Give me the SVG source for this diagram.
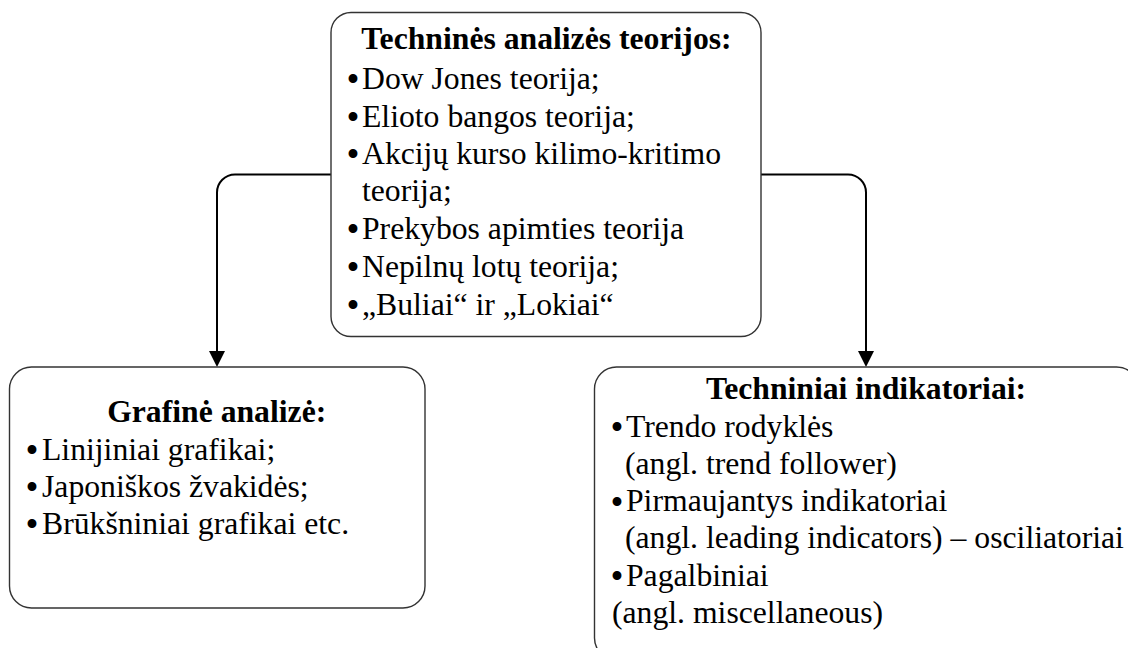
<svg xmlns="http://www.w3.org/2000/svg" width="1128" height="648" viewBox="0 0 1128 648">
  <style>
    .box { fill: #ffffff; stroke: #333333; stroke-width: 1.4; }
    .t { font-family: "Liberation Serif", "Times New Roman", serif; font-size: 31.7px; fill: #000000; }
    .b { font-size: 37px; }
    .title { font-weight: bold; text-anchor: middle; }
    .conn { fill: none; stroke: #000000; stroke-width: 2; }
  </style>
  <defs>
    <marker id="arrow" markerUnits="userSpaceOnUse" markerWidth="16" markerHeight="16" viewBox="0 0 16 16" refX="0" refY="8" orient="auto">
      <path d="M0,0 L16,8 L0,16 z" fill="#000000"/>
    </marker>
  </defs>
  <rect width="1128" height="648" fill="#ffffff"/>

  <g id="connectors">
    <path class="conn" d="M331,174.5 H235 A18,18 0 0 0 217,192.5 V351" marker-end="url(#arrow)"/>
    <path class="conn" d="M761,174.5 H848 A18,18 0 0 1 866,192.5 V351" marker-end="url(#arrow)"/>
  </g>

  <g id="node-teorijos">
    <rect class="box" x="331" y="12.5" width="430" height="324" rx="20" ry="20"/>
    <text class="t title" x="546.5" y="49">Techninės analizės teorijos:</text>
    <text class="t"><tspan class="b" x="346.5" y="92">•</tspan><tspan x="362" y="88.5">Dow Jones teorija;</tspan></text>
    <text class="t"><tspan class="b" x="346.5" y="130">•</tspan><tspan x="362" y="126.5">Elioto bangos teorija;</tspan></text>
    <text class="t"><tspan class="b" x="346.5" y="167">•</tspan><tspan x="362" y="163.5">Akcijų kurso kilimo-kritimo</tspan></text>
    <text class="t" x="362" y="200.5">teorija;</text>
    <text class="t"><tspan class="b" x="346.5" y="242">•</tspan><tspan x="362" y="238.5">Prekybos apimties teorija</tspan></text>
    <text class="t"><tspan class="b" x="346.5" y="280">•</tspan><tspan x="362" y="276.5">Nepilnų lotų teorija;</tspan></text>
    <text class="t"><tspan class="b" x="346.5" y="318">•</tspan><tspan x="362" y="314.5">„Buliai“ ir „Lokiai“</tspan></text>
  </g>

  <g id="node-grafine">
    <rect class="box" x="9.5" y="367" width="415.5" height="241" rx="22" ry="22"/>
    <text class="t title" x="216.7" y="421.5">Grafinė analizė:</text>
    <text class="t"><tspan class="b" x="25.5" y="463">•</tspan><tspan x="42" y="459.5">Linijiniai grafikai;</tspan></text>
    <text class="t"><tspan class="b" x="25.5" y="500">•</tspan><tspan x="42" y="496.5">Japoniškos žvakidės;</tspan></text>
    <text class="t"><tspan class="b" x="25.5" y="537">•</tspan><tspan x="42" y="533.5">Brūkšniniai grafikai etc.</tspan></text>
  </g>

  <g id="node-indikatoriai">
    <rect class="box" x="594.5" y="367" width="544" height="293" rx="22" ry="22"/>
    <text class="t title" x="866" y="399">Techniniai indikatoriai:</text>
    <text class="t"><tspan class="b" x="610.5" y="440">•</tspan><tspan x="626" y="436.5">Trendo rodyklės</tspan></text>
    <text class="t" x="625" y="473.5">(angl. trend follower)</text>
    <text class="t"><tspan class="b" x="610.5" y="514.5">•</tspan><tspan x="626" y="511">Pirmaujantys indikatoriai</tspan></text>
    <text class="t" x="625" y="548">(angl. leading indicators) – osciliatoriai</text>
    <text class="t"><tspan class="b" x="610.5" y="589">•</tspan><tspan x="626" y="585.5">Pagalbiniai</tspan></text>
    <text class="t" x="612" y="622.5">(angl. miscellaneous)</text>
  </g>
</svg>
